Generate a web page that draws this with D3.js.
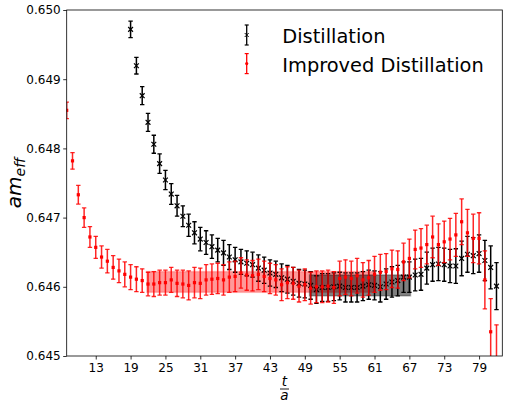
<!DOCTYPE html>
<html>
<head>
<meta charset="utf-8">
<script src="https://cdn.jsdelivr.net/npm/d3@7"></script>
<style>
  body { margin: 0; background: #fff; }
  text { font-family: "DejaVu Sans", sans-serif; }
</style>
</head>
<body>
<svg width="508" height="406"></svg>
<script>
// time slices t/a
const tRed = [8,9,10,11,12,13,14,15,16,17,18,19,20,21,22,23,24,25,26,27,28,29,30,31,32,33,34,35,36,37,38,39,40,41,42,43,44,45,
  46,47,48,49,50,51,52,53,54,55,56,57,58,59,60,61,62,63,64,65,66,67,68,69,70,71,72,73,74,75,76,77,78,79,80,81,82];
const mRed = [0.64855,0.64782,0.64733,0.64700,0.64672,0.64657,0.64643,0.64637,0.64628,0.64623,0.64618,0.64614,0.64611,0.64609,
  0.64604,0.64604,0.64606,0.64606,0.64610,0.64605,0.64604,0.64602,0.64606,0.64605,0.64610,0.64611,0.64612,0.64610,0.64614,
  0.64615,0.64620,0.64617,0.64616,0.64618,0.64615,0.64612,0.64610,0.64603,0.64606,0.64605,0.64601,0.64603,0.64598,0.64600,
  0.64600,0.64601,0.64599,0.64612,0.64614,0.64612,0.64616,0.64610,0.64613,0.64618,0.64621,0.64622,0.64626,0.64625,0.64636,
  0.64641,0.64654,0.64656,0.64661,0.64672,0.64661,0.64665,0.64669,0.64675,0.64694,0.64678,0.64670,0.64670,0.64610,0.64535,0.64495];
const eRed = [0.00012,0.00012,0.000135,0.00014,0.00015,0.00016,0.00016,0.00017,0.00017,0.00017,0.00018,0.00018,0.00018,0.00017,
  0.00017,0.00018,0.00018,0.00018,0.00018,0.00019,0.0002,0.00021,0.00022,0.00022,0.00022,0.00022,0.00022,0.00022,0.00022,
  0.00022,0.00022,0.00022,0.00022,0.00022,0.00022,0.00022,0.00022,0.00023,0.00023,0.00023,0.00023,0.00023,0.00023,0.00023,
  0.00023,0.00023,0.00023,0.00025,0.00025,0.00025,0.00025,0.00025,0.00025,0.00026,0.00026,0.00026,0.00027,0.00027,0.00027,
  0.00028,0.00028,0.00028,0.00028,0.0003,0.0003,0.0003,0.0003,0.00031,0.00033,0.00034,0.00035,0.00037,0.00042,0.00048,0.0005];

const tBlack = [19,20,21,22,23,24,25,26,27,28,29,30,31,32,33,34,35,36,37,38,39,40,41,42,43,44,45,46,47,48,49,50,
  51,52,53,54,55,56,57,58,59,60,61,62,63,64,65,66,67,68,69,70,71,72,73,74,75,76,77,78,79,80,81,82];
const mBlack = [0.64972,0.649195,0.648762,0.648377,0.64806,0.64778,0.647543,0.64734,0.64717,0.64702,0.64689,0.64678,
  0.64669,0.64664,0.64658,0.64653,0.64649,0.64643,0.64639,0.64636,0.64634,0.64632,0.64627,0.64624,0.64620,0.64618,
  0.64613,0.64611,0.64608,0.64605,0.64604,0.64602,0.64596,0.64599,0.64599,0.64600,0.64601,0.64599,0.64599,0.64599,
  0.64601,0.64603,0.64602,0.64600,0.64604,0.64607,0.64609,0.64614,0.64614,0.64617,0.64618,0.64627,0.64632,0.64633,
  0.64632,0.64630,0.64630,0.64641,0.64647,0.64645,0.64648,0.64638,0.64628,0.64601];
const eBlack = [0.00012,0.00012,0.00013,0.00013,0.00013,0.00014,0.00014,0.00015,0.00015,0.00015,0.00016,0.00016,
  0.00017,0.00017,0.00017,0.00017,0.00018,0.00018,0.00018,0.00018,0.00018,0.00018,0.00019,0.00019,0.00019,0.00019,
  0.0002,0.0002,0.0002,0.0002,0.0002,0.0002,0.0002,0.0002,0.0002,0.0002,0.0002,0.00021,0.00021,0.00021,
  0.00021,0.00021,0.00021,0.00022,0.00022,0.00022,0.00022,0.00022,0.00022,0.00023,0.00023,0.00023,0.00024,0.00024,
  0.00024,0.00024,0.00025,0.00025,0.00026,0.00026,0.00027,0.00029,0.00031,0.00034];

// fitted plateaus: [t_from, t_to, value, error]
const fitRed = [21.8, 61.2, 0.64607, 0.00015];
const fitBlack = [49.8, 67.2, 0.64602, 0.000152];

const xTicks = [13,19,25,31,37,43,49,55,61,67,73,79];
const yTicks = [0.645,0.646,0.647,0.648,0.649,0.650];
const labels = ["Distillation", "Improved Distillation"];

let svg = d3.select("svg"),
    margin = {top: 10, right: 5.7, bottom: 50, left: 66.7},
    width = +svg.attr("width") - margin.left - margin.right,
    height = +svg.attr("height") - margin.top - margin.bottom,
    g = svg.append("g").attr("transform", "translate(" + margin.left + "," + margin.top + ")");

const x = d3.scaleLinear().domain([8, 83]).range([0, width]);
const y = d3.scaleLinear().domain([0.645, 0.650]).range([height, 0]);

svg.append("defs").append("clipPath").attr("id", "clip")
  .append("rect").attr("width", width).attr("height", height);

const plot = g.append("g").attr("clip-path", "url(#clip)");

// plateau bands
const band = (f, fill, op) => {
  plot.append("rect")
      .attr("x", x(f[0])).attr("width", x(f[1]) - x(f[0]))
      .attr("y", y(f[2] + f[3])).attr("height", y(f[2] - f[3]) - y(f[2] + f[3]))
      .attr("fill", fill).attr("fill-opacity", op)
      .attr("stroke", fill).attr("stroke-opacity", op * 0.5).attr("stroke-width", 1.5);
};
band(fitRed, "#ff0000", 0.4);
band(fitBlack, "#000", 0.5);

const errorbars = (ts, ms, es, color, cap) => {
  const data = ts.map((t, i) => ({t: t, m: ms[i], e: es[i]}));
  const s = plot.append("g").attr("stroke", color).attr("fill", "none");
  s.selectAll(".bar").data(data).join("line")
      .attr("x1", d => x(d.t)).attr("x2", d => x(d.t))
      .attr("y1", d => y(d.m - d.e)).attr("y2", d => y(d.m + d.e))
      .attr("stroke-width", 1.5);
  [-1, 1].forEach(sg => {
    s.selectAll(".cap" + sg).data(data).join("line")
        .attr("x1", d => x(d.t) - cap).attr("x2", d => x(d.t) + cap)
        .attr("y1", d => y(d.m + sg * d.e)).attr("y2", d => y(d.m + sg * d.e))
        .attr("stroke-width", 1.3);
  });
  return {s: s, data: data};
};

const blk = errorbars(tBlack, mBlack, eBlack, "#000", 2.2);
blk.s.selectAll(".mk").data(blk.data).join("path")
    .attr("d", d => {
      const cx = x(d.t), cy = y(d.m), r = 2.4;
      return `M${cx - r},${cy - r}L${cx + r},${cy + r}M${cx - r},${cy + r}L${cx + r},${cy - r}`;
    })
    .attr("stroke-width", 1.2);

const red = errorbars(tRed, mRed, eRed, "#ff0000", 2.2);
red.s.attr("stroke-opacity", 0.85);
red.s.selectAll(".mk").data(red.data).join("rect")
    .attr("x", d => x(d.t) - 1.6).attr("y", d => y(d.m) - 1.6)
    .attr("width", 3.2).attr("height", 3.2)
    .attr("fill", "#ff0000").attr("stroke", "none");

// axes
const xAxis = g.append("g")
    .attr("transform", "translate(0," + height + ")")
    .call(d3.axisBottom(x).tickValues(xTicks).tickSize(3.5).tickPadding(3.5));
const yAxis = g.append("g")
    .call(d3.axisLeft(y).tickValues(yTicks).tickFormat(d3.format(".3f")).tickSize(3.5).tickPadding(2.5));
[xAxis, yAxis].forEach(a => {
  a.select(".domain").remove();
  a.selectAll("text").attr("font-size", 12).attr("font-family", "DejaVu Sans").attr("fill", "#000");
  a.selectAll("line").attr("stroke", "#000").attr("stroke-width", 0.8);
});

g.append("rect")
    .attr("width", width).attr("height", height)
    .attr("fill", "none").attr("stroke", "#000").attr("stroke-width", 0.8);

// y label: am_eff
svg.append("text")
    .attr("transform", "translate(21,183) rotate(-90)")
    .attr("text-anchor", "middle")
    .attr("font-style", "italic")
    .attr("font-size", 20)
    .text("am")
  .append("tspan")
    .attr("font-size", 14)
    .attr("dy", 4)
    .text("eff");

// x label: t / a
const cx = margin.left + width / 2;
svg.append("text").attr("x", cx).attr("y", 385.5).attr("text-anchor", "middle")
    .attr("font-style", "italic").attr("font-size", 13.5).text("t");
svg.append("line").attr("x1", cx - 4.5).attr("x2", cx + 4.5).attr("y1", 389).attr("y2", 389)
    .attr("stroke", "#000").attr("stroke-width", 0.9);
svg.append("text").attr("x", cx).attr("y", 400).attr("text-anchor", "middle")
    .attr("font-style", "italic").attr("font-size", 13.5).text("a");

// legend
const leg = svg.append("g");
const legColors = ["#000", "#ff0000"];
labels.forEach((lab, i) => {
  const cyL = 35 + i * 28.6, lx = 246.7;
  leg.append("line").attr("x1", lx).attr("x2", lx).attr("y1", cyL - 10).attr("y2", cyL + 10)
      .attr("stroke", legColors[i]).attr("stroke-width", 1.3);
  [-10, 10].forEach(o => leg.append("line").attr("x1", lx - 2).attr("x2", lx + 2)
      .attr("y1", cyL + o).attr("y2", cyL + o).attr("stroke", legColors[i]).attr("stroke-width", 1.2));
  if (i === 0) {
    leg.append("path").attr("d", `M${lx - 2},${cyL - 2}L${lx + 2},${cyL + 2}M${lx - 2},${cyL + 2}L${lx + 2},${cyL - 2}`)
        .attr("stroke", "#000").attr("stroke-width", 1);
  } else {
    leg.append("circle").attr("cx", lx).attr("cy", cyL).attr("r", 1.6).attr("fill", "#ff0000");
  }
  leg.append("text").attr("x", 282.3).attr("y", cyL + 8.3)
      .attr("font-size", 19.4).attr("fill", "#000").text(lab);
});
</script>
</body>
</html>
